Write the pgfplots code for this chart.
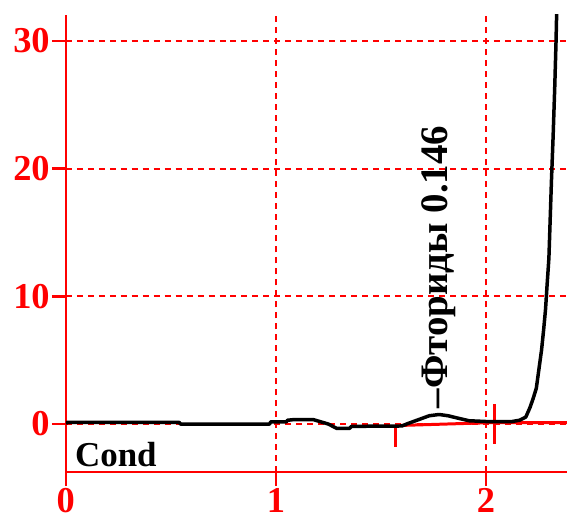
\documentclass[border=0pt]{standalone}
\usepackage{fontspec}
\setmainfont{Liberation Serif}
\usepackage{pgfplots}
\pgfplotsset{compat=1.18}
\definecolor{rd}{RGB}{255,0,0}
\begin{document}
\begin{tikzpicture}
\path (-66pt,-49pt) rectangle (502pt,473pt);
\begin{axis}[
  at={(0pt,0pt)}, anchor=south west,
  scale only axis, width=502pt, height=458pt,
  xmin=0, xmax=2.385, ymin=-3.75, ymax=32.03,
  axis x line*=bottom, axis y line*=left,
  axis line style={rd, line width=2.5pt},
  xtick={0,1,2}, ytick={0,10,20,30},
  xtick pos=left, ytick pos=left,
  tick align=outside, major tick length=14pt,
  tick style={rd, line width=2.5pt},
  grid=major,
  major grid style={rd, line width=1.8pt, dash pattern=on 6pt off 5pt},
  tick label style={font=\fontsize{36.5}{40}\selectfont\bfseries, text=rd},
  /pgf/number format/assume math mode=true,
  xticklabel style={inner sep=2.5pt},
  yticklabel style={inner sep=2pt},
  clip=true,
]
% red baseline
\addplot[rd, line width=3pt] coordinates {(1.571,-0.12) (2.043,0.12) (2.385,0.12)};
\addplot[rd, line width=3pt] coordinates {(1.571,-0.12) (1.571,-1.8)};
\addplot[rd, line width=3pt] coordinates {(2.043,1.56) (2.043,-1.56)};
% chromatogram
\addplot[black, line width=3.5pt, line join=round] table {
x y
0.000 0.00
0.004 0.13
0.540 0.13
0.546 0.00
0.970 0.00
0.976 0.18
1.050 0.18
1.056 0.30
1.080 0.34
1.180 0.34
1.250 0.00
1.290 -0.34
1.350 -0.34
1.360 -0.18
1.600 -0.15
1.630 0.05
1.680 0.35
1.730 0.65
1.777 0.75
1.820 0.65
1.870 0.45
1.920 0.26
2.000 0.20
2.125 0.20
2.160 0.30
2.190 0.55
2.210 1.30
2.225 2.00
2.240 2.80
2.250 4.00
2.265 5.80
2.275 7.40
2.284 9.00
2.291 10.80
2.300 13.00
2.306 16.00
2.312 19.00
2.320 22.50
2.328 26.50
2.334 30.00
2.338 33.00
};
\node[rotate=90, anchor=base west, inner sep=0pt, font=\fontsize{39}{42}\selectfont\bfseries]
  at (axis cs:1.818,1.23) {–Фториды 0.146};
\node[anchor=base west, inner sep=0pt, font=\fontsize{35}{40}\selectfont\bfseries]
  at (axis cs:0.043,-3.36) {Cond};
\end{axis}
\end{tikzpicture}
\end{document}
